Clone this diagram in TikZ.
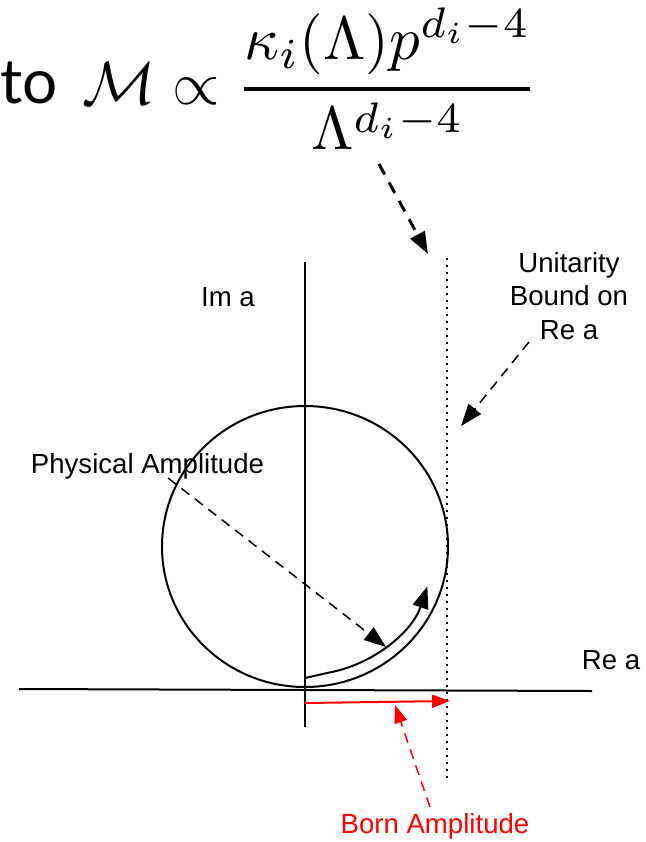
\documentclass[tikz,border=0pt]{standalone}
\usepackage{graphicx}
\usepackage[no-math]{fontspec}
\setmainfont{Liberation Sans}
\newfontfamily\tofont{Lato}
\usetikzlibrary{arrows.meta}
\begin{document}
\begin{tikzpicture}[x=0.5pt,y=-0.5pt,
  lbl/.style={font=\fontsize{13.8}{16.8}\selectfont, inner sep=0pt, align=center},
  ax/.style={line width=1pt},
  bighead/.style={-{Triangle[length=11pt,width=8pt]}},
  redhead/.style={-{Triangle[length=9pt,width=6.5pt]}},
  pointer/.style={line width=0.75pt, dash pattern=on 5pt off 3.5pt, bighead},
  redpointer/.style={draw=red, line width=0.75pt, dash pattern=on 5pt off 3.5pt, redhead, red}]
\useasboundingbox (0,0) rectangle (646,842);

% title formula
\node[anchor=base west, inner sep=0pt, font=\tofont\fontsize{31}{36}\selectfont] (to) at (0,103) {to};
\node[anchor=base west, inner sep=0pt] (formula) at (82,104) {\scalebox{3.05}{$\displaystyle\mathcal{M}\propto{\kappa_i(\Lambda)p^{d_i-4}\above0.65pt\Lambda^{d_i-4}}$}};

% axes
\coordinate (imtop) at (305,262);
\coordinate (imbot) at (305,727);
\coordinate (reL) at (19,689);
\coordinate (reR) at (592,691);
\draw[ax] (imtop) -- (imbot);
\draw[ax] (reL) -- (reR);

% circle
\coordinate (cc) at (305,546.5);
\draw[ax] (cc) ellipse [x radius=143, y radius=140.5];

% unitarity bound
\coordinate (ubtop) at (447,258);
\coordinate (ubbot) at (447,778);
\draw[line width=1.1pt, dash pattern=on 0.9pt off 2.6pt] (ubtop) -- (ubbot);

% labels
\node[lbl] (im) at (228,297) {Im a};
\node[lbl] (re) at (611,660) {Re a};
\node[lbl] (unit) at (569,296) {Unitarity\\Bound on\\Re a};
\node[lbl] (phys) at (147.5,466) {Physical Amplitude};
\node[lbl, text=red] (born) at (435,826) {Born Amplitude};

% formula arrow
\coordinate (fstart) at (379,164);
\coordinate (ftip) at (428,254);
\draw[line width=1.5pt, dash pattern=on 6pt off 4.5pt, -{Triangle[length=11pt,width=8pt]}] (fstart) -- (ftip);

% unitarity pointer
\coordinate (ustart) at (529,342);
\coordinate (utip) at (461,426);
\draw[pointer] (ustart) -- (utip);

% physical amplitude pointer
\coordinate (pstart) at (168,478);
\coordinate (ptip) at (386,647);
\draw[pointer] (pstart) -- (ptip);

% curved physical amplitude arrow
\coordinate (cstart) at (305,678);
\coordinate (cbend) at (327,673);
\draw[line width=1pt, bighead] (cstart) -- (cbend) arc[start angle=80, end angle=18.4, radius=129.5];

% born amplitude
\coordinate (bstart) at (305,703);
\coordinate (btip) at (450,701);
\draw[red, line width=1pt, redhead] (bstart) -- (btip);
\coordinate (bpstart) at (430,807);
\coordinate (bptip) at (395,705);
\draw[redpointer] (bpstart) -- (bptip);
\end{tikzpicture}
\end{document}
